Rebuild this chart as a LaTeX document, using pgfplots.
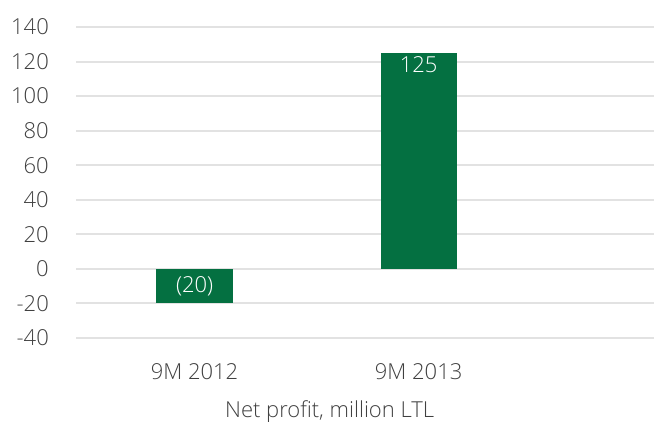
\documentclass[border=0pt]{standalone}
\usepackage{pgfplots}
\pgfplotsset{compat=1.18}
\usepackage{fontspec}
\setmainfont{Open Sans}[UprightFont={* Light}]
\definecolor{bargreen}{RGB}{4,112,65}
\definecolor{txtgray}{RGB}{64,64,64}
\definecolor{gridgray}{RGB}{226,226,226}

\begin{document}
\begin{tikzpicture}[font=\fontsize{22}{26}\selectfont]
\path[use as bounding box] (0,0) rectangle (654pt,421pt);
\begin{axis}[
    at={(76pt,83pt)}, anchor=south west,
    scale only axis,
    width=578pt, height=311pt,
    xmin=-0.529, xmax=2.05,
    ymin=-40, ymax=140,
    ytick={-40,-20,...,140},
    xtick={0,1},
    xticklabels={9M 2012, 9M 2013},
    ybar, bar width=0.34, bar shift=0pt,
    axis line style={draw=none},
    major tick length=0pt,
    ymajorgrids=true,
    grid style={gridgray, line width=2pt},
    /pgf/number format/assume math mode=true,
    yticklabel style={anchor=east, inner sep=0pt, xshift=-27pt, text=txtgray},
    xticklabel style={anchor=base, inner sep=0pt, yshift=-41pt, text=txtgray},
    clip=false,
]
\addplot[fill=bargreen, draw=none,
    nodes near coords={(20)},
    nodes near coords style={anchor=center, yshift=17pt, text=white}]
    coordinates {(0,-20)};
\addplot[fill=bargreen, draw=none,
    nodes near coords={125},
    nodes near coords style={anchor=center, yshift=-12pt, text=white}]
    coordinates {(1,125)};
\node[anchor=base, inner sep=0pt, text=txtgray, yshift=-79pt]
    at (axis cs:0.603,-40) {Net profit, million LTL};
\end{axis}
\end{tikzpicture}
\end{document}
